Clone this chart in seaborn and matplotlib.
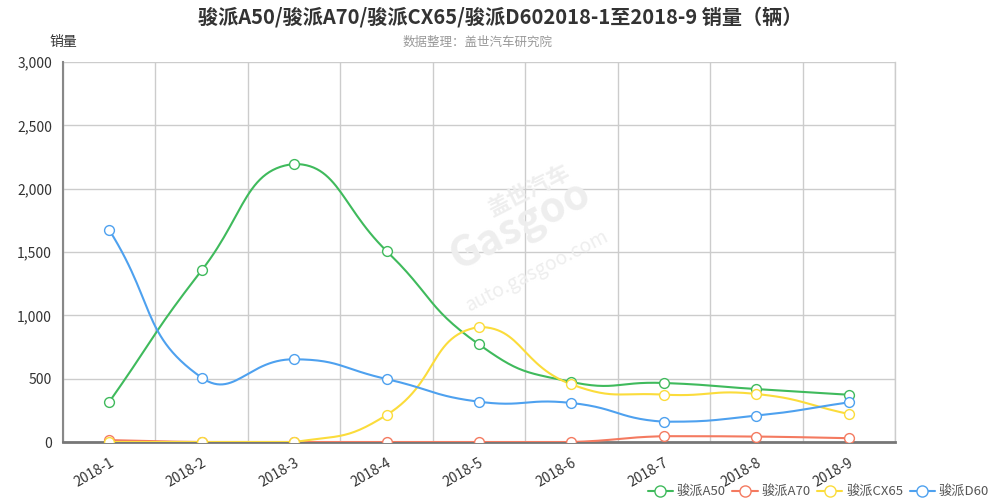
import numpy as np
import pandas as pd
import seaborn as sns
import matplotlib.pyplot as plt
from matplotlib.lines import Line2D

sns.set_style("white")
plt.rcParams['font.family'] = ['Noto Sans CJK SC', 'DejaVu Sans']

# data
months = ["2018-1", "2018-2", "2018-3", "2018-4", "2018-5", "2018-6", "2018-7", "2018-8", "2018-9"]
a50 = [316, 1355, 2195, 1508, 770, 474, 466, 418, 373]
a70 = [15, 0, 0, 0, 0, 0, 46, 43, 30]
cx65 = [0, 0, 0, 213, 908, 455, 374, 379, 221]
d60 = [1674, 508, 653, 497, 318, 308, 160, 208, 313]

names = ["骏派A50", "骏派A70", "骏派CX65", "骏派D60"]
colors = ["#3fba5c", "#f47a60", "#fbdc3b", "#4ea1ef"]

df = pd.DataFrame({"month": months, "骏派A50": a50, "骏派A70": a70,
                   "骏派CX65": cx65, "骏派D60": d60})
df["pos"] = np.arange(len(months))
long = df.melt(id_vars=["month", "pos"], var_name="series", value_name="sales")

# px per unit, used to smooth the lines the way echarts does
SX, SY = 92.4, 380 / 3000.0


def smooth_curve(xs, ys, smooth=0.5, n=30):
    p = np.column_stack([np.asarray(xs, float) * SX, np.asarray(ys, float) * SY])
    lo, hi = p.min(axis=0), p.max(axis=0)
    m = len(p)
    cps = []
    for i in range(m):
        prev = p[i - 1] if i > 0 else p[i]
        nxt = p[i + 1] if i < m - 1 else p[i]
        v = (nxt - prev) * smooth
        d0 = np.linalg.norm(p[i] - prev)
        d1 = np.linalg.norm(p[i] - nxt)
        s = d0 + d1
        if s > 0:
            d0, d1 = d0 / s, d1 / s
        c0 = np.clip(p[i] - v * d0, lo, hi)
        c1 = np.clip(p[i] + v * d1, lo, hi)
        cps.append((c0, c1))
    out = [p[:1]]
    t = np.linspace(0, 1, n)[1:, None]
    for i in range(m - 1):
        a, b = p[i], p[i + 1]
        c1, c2 = cps[i][1], cps[i + 1][0]
        seg = (1 - t) ** 3 * a + 3 * (1 - t) ** 2 * t * c1 + 3 * (1 - t) * t ** 2 * c2 + t ** 3 * b
        out.append(seg)
    out = np.vstack(out)
    return out[:, 0] / SX, out[:, 1] / SY


fig = plt.figure(figsize=(10.01, 5.01), dpi=100)
fig.patch.set_facecolor("white")
ax = fig.add_axes([63 / 1001, 1 - 442 / 501, 832 / 1001, 380 / 501])

for name, col in zip(names, colors):
    sub = long[long["series"] == name]
    cx, cy = smooth_curve(sub["pos"], sub["sales"])
    ax.plot(cx, cy, color=col, lw=1.5, zorder=3, solid_capstyle="round")
    sns.scatterplot(x=sub["pos"], y=sub["sales"], ax=ax, s=50, marker="o",
                    facecolor="white", edgecolor=col, linewidth=1.0, zorder=5,
                    legend=False)

ax.set_xlim(-0.5, 8.5)
ax.set_ylim(0, 3000)
ax.set_yticks(np.arange(0, 3001, 500))
ax.set_yticklabels([f"{v:,}" for v in range(0, 3001, 500)], fontsize=10, color="#333333")
ax.set_xticks(np.arange(-0.5, 9, 1), minor=False)
ax.set_xticklabels([])
ax.set_xticks(np.arange(9), minor=True)
ax.set_xticklabels(months, minor=True, rotation=30, ha="right", fontsize=10,
                   color="#333333", rotation_mode="anchor")
ax.tick_params(axis="x", which="minor", length=0, pad=10)
ax.tick_params(axis="x", which="major", length=5, color="#333333", direction="out")
ax.tick_params(axis="y", length=5, color="#333333", direction="out", pad=3)
ax.grid(True, which="major", color="#cccccc", lw=1)
ax.set_xlabel("")
ax.set_ylabel("")
ax.spines["top"].set_visible(False)
ax.spines["right"].set_color("#cccccc")
ax.spines["right"].set_linewidth(1)
ax.spines["left"].set_color("#888888")
ax.spines["left"].set_linewidth(1.5)
ax.spines["bottom"].set_color("#777777")
ax.spines["bottom"].set_linewidth(2)

# watermark
ax.text(0.56, 0.66, "盖世汽车", transform=ax.transAxes, rotation=27, fontsize=16,
        color="#eeeeee", ha="center", va="center", fontweight="bold", zorder=1)
ax.text(0.55, 0.57, "Gasgoo", transform=ax.transAxes, rotation=27, fontsize=30,
        color="#eeeeee", ha="center", va="center", fontweight="bold", zorder=1)
ax.text(0.57, 0.45, "auto.gasgoo.com", transform=ax.transAxes, rotation=27, fontsize=14,
        color="#eeeeee", ha="center", va="center", zorder=1)

fig.text(0.5, 1 - 17 / 501, "骏派A50/骏派A70/骏派CX65/骏派D602018-1至2018-9 销量（辆）",
         ha="center", va="center", fontsize=14.5, fontweight="bold", color="#333333")
fig.text(478 / 1001, 1 - 42 / 501, "数据整理：盖世汽车研究院", ha="center", va="center",
         fontsize=9, color="#999999")
fig.text(63 / 1001, 1 - 42 / 501, "销量", ha="center", va="center", fontsize=10, color="#333333")

handles = [Line2D([0], [0], color=c, lw=1.5, marker="o", markersize=8,
                  markerfacecolor="white", markeredgecolor=c) for c in colors]
leg = fig.legend(handles, names, loc="lower right", bbox_to_anchor=(1.0, -0.018), ncol=4,
                 frameon=False, fontsize=9.5, handlelength=1.9, columnspacing=0.5,
                 handletextpad=0.3)
for t in leg.get_texts():
    t.set_color("#555555")

fig.savefig("out.png", dpi=100)
plt.close()
